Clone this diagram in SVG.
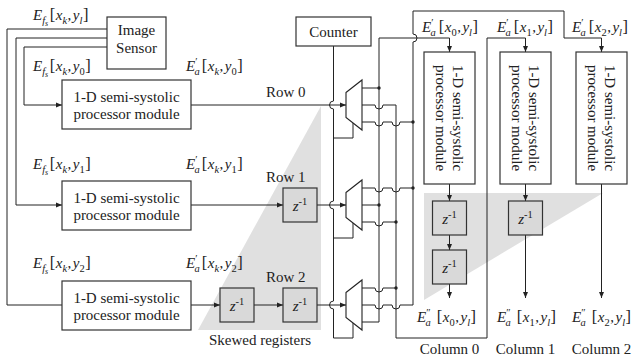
<svg xmlns="http://www.w3.org/2000/svg" width="633" height="362" viewBox="0 0 633 362">
<style>
.ln{fill:none;stroke:#222;stroke-width:1}
.box{fill:#fff;stroke:#333;stroke-width:1.2}
.zb{fill:#d9d9d9;stroke:#333;stroke-width:1.2}
.mux{fill:#fff;stroke:#222;stroke-width:1.1}
.t{font-family:"Liberation Serif",serif;font-size:15px;fill:#222}
.i{font-style:italic}
.s{font-size:10.5px}
.ss{font-size:8px}
.b{font-size:16.5px}
.dot{fill:#222}
.shade{fill:#e0e0e0}
</style>
<defs>
<marker id="ar" markerUnits="userSpaceOnUse" markerWidth="7" markerHeight="6" refX="6" refY="3" orient="auto">
<path d="M0,0.5 L6,3 L0,5.5 z" fill="#222"/>
</marker>
</defs>

<!-- shaded areas -->
<polygon class="shade" points="198,330 321,106 321,330"/>
<polygon class="shade" points="424,193 603,193 424,300"/>

<g id="connectors">
<path class="ln" d="M107,29 H7 V305 H62"/>
<path class="ln" d="M107,38 H16 V205 H62" marker-end="url(#ar)"/>
<path class="ln" d="M107,47 H24 V105 H62" marker-end="url(#ar)"/>
<path class="ln" d="M191,105 H346" marker-end="url(#ar)"/>
<path class="ln" d="M191,205 H283" marker-end="url(#ar)"/>
<path class="ln" d="M317,205 H346" marker-end="url(#ar)"/>
<path class="ln" d="M191,305 H220" marker-end="url(#ar)"/>
<path class="ln" d="M254,305 H283" marker-end="url(#ar)"/>
<path class="ln" d="M317,305 H346" marker-end="url(#ar)"/>
<!-- counter select -->
<path class="ln" d="M333.5,46 V101 a4,4 0 0 0 0,8 V201 a4,4 0 0 0 0,8 V301 a4,4 0 0 0 0,8 V338"/>
<path class="ln" d="M353,123 V138 H333.5"/>
<path class="ln" d="M353,223 V238 H333.5"/>
<path class="ln" d="M353,323 V338 H333.5"/>
<!-- mux0 outputs -->
<path class="ln" d="M362,88 H379"/>
<path class="ln" d="M362,105 H375 a4,4 0 0 0 8,0 H396 V338 H487 V38 H525.5 V52" marker-end="url(#ar)"/>
<path class="ln" d="M362,122 H375 a4,4 0 0 0 8,0 H392 a4,4 0 0 0 8,0 H413"/>
<!-- mux1 outputs -->
<path class="ln" d="M362,188 H375 a4,4 0 0 0 8,0 H392 a4,4 0 0 0 8,0 H413"/>
<path class="ln" d="M362,205 H379"/>
<path class="ln" d="M362,222 H375 a4,4 0 0 0 8,0 H396"/>
<!-- mux2 outputs -->
<path class="ln" d="M362,288 H375 a4,4 0 0 0 8,0 H396"/>
<path class="ln" d="M362,305 H375 a4,4 0 0 0 8,0 H392 a4,4 0 0 0 8,0 H413 V42 a4,4 0 0 0 0,-8 V11 H564 V38 H601.5 V52" marker-end="url(#ar)"/>
<path class="ln" d="M362,322 H379 V38 H449.5 V52" marker-end="url(#ar)"/>
<!-- columns -->
<path class="ln" d="M449.5,184 V201" marker-end="url(#ar)"/>
<path class="ln" d="M449.5,235 V250" marker-end="url(#ar)"/>
<path class="ln" d="M449.5,284 V298" marker-end="url(#ar)"/>
<path class="ln" d="M525.5,184 V201" marker-end="url(#ar)"/>
<path class="ln" d="M525.5,235 V298" marker-end="url(#ar)"/>
<path class="ln" d="M601.5,184 V298" marker-end="url(#ar)"/>
<circle class="dot" cx="379" cy="88" r="1.7"/>
<circle class="dot" cx="379" cy="205" r="1.7"/>
<circle class="dot" cx="396" cy="222" r="1.7"/>
<circle class="dot" cx="396" cy="288" r="1.7"/>
<circle class="dot" cx="413" cy="122" r="1.7"/>
<circle class="dot" cx="413" cy="188" r="1.7"/>
</g>

<g id="sensor">
<rect class="box" x="107" y="17" width="59" height="52"/>
<text class="t" x="136.5" y="35" text-anchor="middle">Image</text>
<text class="t" x="136.5" y="53" text-anchor="middle">Sensor</text>
</g>
<g id="counter">
<rect class="box" x="296" y="17" width="75" height="29"/>
<text class="t" x="333.5" y="37" text-anchor="middle">Counter</text>
</g>

<g id="row0">
<rect class="box" x="62" y="80" width="129" height="49"/>
<text class="t" x="126.5" y="102" text-anchor="middle">1-D semi-systolic</text>
<text class="t" x="126.5" y="119" text-anchor="middle">processor module</text>
</g>
<g id="row1">
<rect class="box" x="62" y="181" width="129" height="49"/>
<text class="t" x="126.5" y="203" text-anchor="middle">1-D semi-systolic</text>
<text class="t" x="126.5" y="220" text-anchor="middle">processor module</text>
</g>
<g id="row2">
<rect class="box" x="62" y="281" width="129" height="49"/>
<text class="t" x="126.5" y="303" text-anchor="middle">1-D semi-systolic</text>
<text class="t" x="126.5" y="320" text-anchor="middle">processor module</text>
</g>

<g id="z-row1"><rect class="zb" x="283" y="188" width="34" height="34"/><text class="t" x="300" y="211" text-anchor="middle"><tspan class="i">z</tspan><tspan class="s" dy="-6">-1</tspan></text></g>
<g id="z-row2a"><rect class="zb" x="220" y="288" width="34" height="34"/><text class="t" x="237" y="311" text-anchor="middle"><tspan class="i">z</tspan><tspan class="s" dy="-6">-1</tspan></text></g>
<g id="z-row2b"><rect class="zb" x="283" y="288" width="34" height="34"/><text class="t" x="300" y="311" text-anchor="middle"><tspan class="i">z</tspan><tspan class="s" dy="-6">-1</tspan></text></g>

<g id="mux0"><polygon class="mux" points="346,92.5 362,80 362,130 346,117.5"/></g>
<g id="mux1"><polygon class="mux" points="346,192.5 362,180 362,230 346,217.5"/></g>
<g id="mux2"><polygon class="mux" points="346,292.5 362,280 362,330 346,317.5"/></g>

<g id="col0">
<rect class="box" x="424" y="52" width="51" height="132"/>
<g transform="translate(449.5,118) rotate(90)"><text class="t" x="0" y="-3.5" text-anchor="middle">1-D semi-systolic</text><text class="t" x="0" y="13.5" text-anchor="middle">processor module</text></g>
</g>
<g id="col1">
<rect class="box" x="500" y="52" width="51" height="132"/>
<g transform="translate(525.5,118) rotate(90)"><text class="t" x="0" y="-3.5" text-anchor="middle">1-D semi-systolic</text><text class="t" x="0" y="13.5" text-anchor="middle">processor module</text></g>
</g>
<g id="col2">
<rect class="box" x="576" y="52" width="51" height="132"/>
<g transform="translate(601.5,118) rotate(90)"><text class="t" x="0" y="-3.5" text-anchor="middle">1-D semi-systolic</text><text class="t" x="0" y="13.5" text-anchor="middle">processor module</text></g>
</g>
<g id="z-col0a"><rect class="zb" x="432.5" y="201" width="34" height="34"/><text class="t" x="449.5" y="224" text-anchor="middle"><tspan class="i">z</tspan><tspan class="s" dy="-6">-1</tspan></text></g>
<g id="z-col0b"><rect class="zb" x="432.5" y="250" width="34" height="34"/><text class="t" x="449.5" y="273" text-anchor="middle"><tspan class="i">z</tspan><tspan class="s" dy="-6">-1</tspan></text></g>
<g id="z-col1"><rect class="zb" x="508.5" y="201" width="34" height="34"/><text class="t" x="525.5" y="224" text-anchor="middle"><tspan class="i">z</tspan><tspan class="s" dy="-6">-1</tspan></text></g>

<g id="labels">
<text class="t" x="33" y="20"><tspan class="i">E</tspan><tspan class="i s" dy="3.5">f</tspan><tspan class="i ss" dy="2.5">s</tspan><tspan class="b" dx="1.5" dy="-6">[</tspan><tspan class="i" dx="0.5">x</tspan><tspan class="i s" dy="3.5">k</tspan><tspan dx="0.5" dy="-3.5">,</tspan><tspan class="i" dx="1.5">y</tspan><tspan class="i s" dy="3.5">l</tspan><tspan class="b" dx="0.5" dy="-3.5">]</tspan></text>
<text class="t" x="33" y="71"><tspan class="i">E</tspan><tspan class="i s" dy="3.5">f</tspan><tspan class="i ss" dy="2.5">s</tspan><tspan class="b" dx="1.5" dy="-6">[</tspan><tspan class="i" dx="0.5">x</tspan><tspan class="i s" dy="3.5">k</tspan><tspan dx="0.5" dy="-3.5">,</tspan><tspan class="i" dx="1.5">y</tspan><tspan class="s" dy="3.5">0</tspan><tspan class="b" dx="0.5" dy="-3.5">]</tspan></text>
<text class="t" x="33" y="169"><tspan class="i">E</tspan><tspan class="i s" dy="3.5">f</tspan><tspan class="i ss" dy="2.5">s</tspan><tspan class="b" dx="1.5" dy="-6">[</tspan><tspan class="i" dx="0.5">x</tspan><tspan class="i s" dy="3.5">k</tspan><tspan dx="0.5" dy="-3.5">,</tspan><tspan class="i" dx="1.5">y</tspan><tspan class="s" dy="3.5">1</tspan><tspan class="b" dx="0.5" dy="-3.5">]</tspan></text>
<text class="t" x="33" y="268"><tspan class="i">E</tspan><tspan class="i s" dy="3.5">f</tspan><tspan class="i ss" dy="2.5">s</tspan><tspan class="b" dx="1.5" dy="-6">[</tspan><tspan class="i" dx="0.5">x</tspan><tspan class="i s" dy="3.5">k</tspan><tspan dx="0.5" dy="-3.5">,</tspan><tspan class="i" dx="1.5">y</tspan><tspan class="s" dy="3.5">2</tspan><tspan class="b" dx="0.5" dy="-3.5">]</tspan></text>

<text class="t" x="186" y="71"><tspan class="i">E</tspan><tspan class="s" dy="-6">′</tspan><tspan class="i s" dx="-3" dy="9.5">a</tspan><tspan class="b" dx="2" dy="-3.5">[</tspan><tspan class="i" dx="0.5">x</tspan><tspan class="i s" dy="3.5">k</tspan><tspan dx="0.5" dy="-3.5">,</tspan><tspan class="i" dx="1.5">y</tspan><tspan class="s" dy="3.5">0</tspan><tspan class="b" dx="0.5" dy="-3.5">]</tspan></text>
<text class="t" x="186" y="169"><tspan class="i">E</tspan><tspan class="s" dy="-6">′</tspan><tspan class="i s" dx="-3" dy="9.5">a</tspan><tspan class="b" dx="2" dy="-3.5">[</tspan><tspan class="i" dx="0.5">x</tspan><tspan class="i s" dy="3.5">k</tspan><tspan dx="0.5" dy="-3.5">,</tspan><tspan class="i" dx="1.5">y</tspan><tspan class="s" dy="3.5">1</tspan><tspan class="b" dx="0.5" dy="-3.5">]</tspan></text>
<text class="t" x="186" y="268"><tspan class="i">E</tspan><tspan class="s" dy="-6">′</tspan><tspan class="i s" dx="-3" dy="9.5">a</tspan><tspan class="b" dx="2" dy="-3.5">[</tspan><tspan class="i" dx="0.5">x</tspan><tspan class="i s" dy="3.5">k</tspan><tspan dx="0.5" dy="-3.5">,</tspan><tspan class="i" dx="1.5">y</tspan><tspan class="s" dy="3.5">2</tspan><tspan class="b" dx="0.5" dy="-3.5">]</tspan></text>

<text class="t" x="422" y="32"><tspan class="i">E</tspan><tspan class="s" dy="-6">′</tspan><tspan class="i s" dx="-3" dy="9.5">a</tspan><tspan class="b" dx="3" dy="-3.5">[</tspan><tspan class="i" dx="0.5">x</tspan><tspan class="s" dy="3.5">0</tspan><tspan dx="0.5" dy="-3.5">,</tspan><tspan class="i" dx="1.5">y</tspan><tspan class="i s" dy="3.5">l</tspan><tspan class="b" dx="0.5" dy="-3.5">]</tspan></text>
<text class="t" x="497" y="32"><tspan class="i">E</tspan><tspan class="s" dy="-6">′</tspan><tspan class="i s" dx="-3" dy="9.5">a</tspan><tspan class="b" dx="3" dy="-3.5">[</tspan><tspan class="i" dx="0.5">x</tspan><tspan class="s" dy="3.5">1</tspan><tspan dx="0.5" dy="-3.5">,</tspan><tspan class="i" dx="1.5">y</tspan><tspan class="i s" dy="3.5">l</tspan><tspan class="b" dx="0.5" dy="-3.5">]</tspan></text>
<text class="t" x="572" y="32"><tspan class="i">E</tspan><tspan class="s" dy="-6">′</tspan><tspan class="i s" dx="-3" dy="9.5">a</tspan><tspan class="b" dx="3" dy="-3.5">[</tspan><tspan class="i" dx="0.5">x</tspan><tspan class="s" dy="3.5">2</tspan><tspan dx="0.5" dy="-3.5">,</tspan><tspan class="i" dx="1.5">y</tspan><tspan class="i s" dy="3.5">l</tspan><tspan class="b" dx="0.5" dy="-3.5">]</tspan></text>

<text class="t" x="417" y="322"><tspan class="i">E</tspan><tspan class="s" dy="-6">″</tspan><tspan class="i s" dx="-5" dy="9.5">a</tspan><tspan class="b" dx="6" dy="-3.5">[</tspan><tspan class="i" dx="0.5">x</tspan><tspan class="s" dy="3.5">0</tspan><tspan dx="0.5" dy="-3.5">,</tspan><tspan class="i" dx="1.5">y</tspan><tspan class="i s" dy="3.5">l</tspan><tspan class="b" dx="0.5" dy="-3.5">]</tspan></text>
<text class="t" x="497" y="322"><tspan class="i">E</tspan><tspan class="s" dy="-6">″</tspan><tspan class="i s" dx="-5" dy="9.5">a</tspan><tspan class="b" dx="6" dy="-3.5">[</tspan><tspan class="i" dx="0.5">x</tspan><tspan class="s" dy="3.5">1</tspan><tspan dx="0.5" dy="-3.5">,</tspan><tspan class="i" dx="1.5">y</tspan><tspan class="i s" dy="3.5">l</tspan><tspan class="b" dx="0.5" dy="-3.5">]</tspan></text>
<text class="t" x="572" y="322"><tspan class="i">E</tspan><tspan class="s" dy="-6">″</tspan><tspan class="i s" dx="-5" dy="9.5">a</tspan><tspan class="b" dx="6" dy="-3.5">[</tspan><tspan class="i" dx="0.5">x</tspan><tspan class="s" dy="3.5">2</tspan><tspan dx="0.5" dy="-3.5">,</tspan><tspan class="i" dx="1.5">y</tspan><tspan class="i s" dy="3.5">l</tspan><tspan class="b" dx="0.5" dy="-3.5">]</tspan></text>

<text class="t" x="266" y="97">Row 0</text>
<text class="t" x="266" y="182">Row 1</text>
<text class="t" x="266" y="282">Row 2</text>
<text class="t" x="260" y="345" text-anchor="middle">Skewed registers</text>
<text class="t" x="449.5" y="354" text-anchor="middle">Column 0</text>
<text class="t" x="525.5" y="354" text-anchor="middle">Column 1</text>
<text class="t" x="601.5" y="354" text-anchor="middle">Column 2</text>
</g>
</svg>
